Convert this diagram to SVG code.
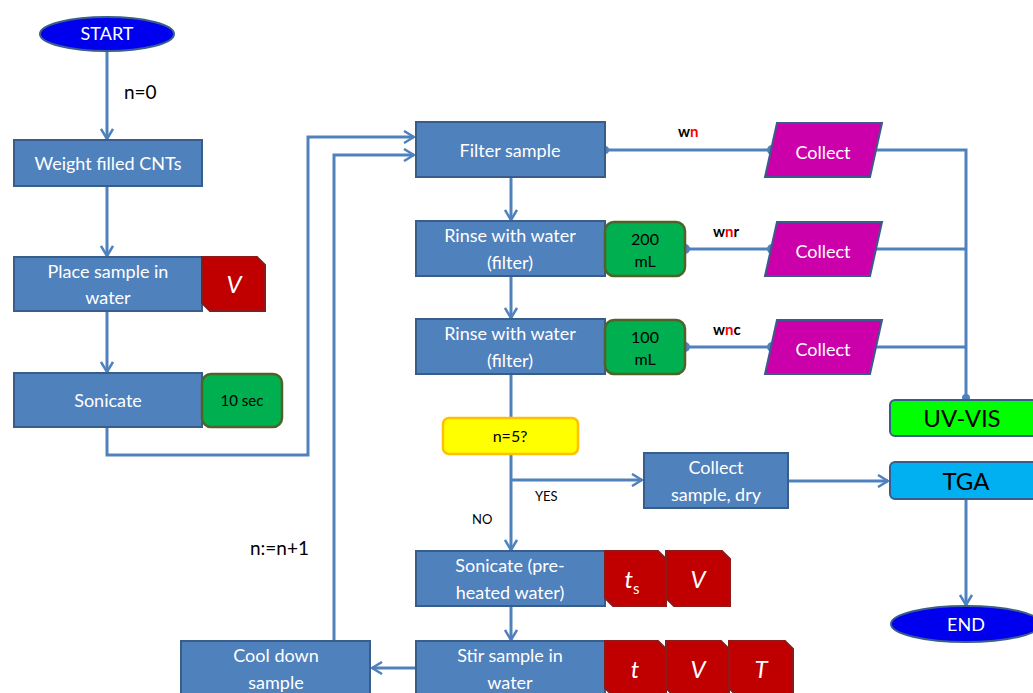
<svg xmlns="http://www.w3.org/2000/svg" width="1033" height="693" viewBox="0 0 1033 693">
<style>
.box{fill:#4f81bd;stroke:#385d8a;stroke-width:2}
.bt{font-family:Lato,"Open Sans",sans-serif;font-size:18px;fill:#fff;text-anchor:middle}
.tag{fill:#c00000;stroke:#8b1a1a;stroke-width:2}
.tt{font-family:Lato,"Open Sans",sans-serif;font-size:24px;fill:#fff;text-anchor:middle;font-style:italic}
.grn{fill:#00b050;stroke:#4f6228;stroke-width:2.5}
.gt{font-family:Lato,"Open Sans",sans-serif;font-size:16px;fill:#000;text-anchor:middle}
.big{font-size:24px}
.col{fill:#cc00aa;stroke:#385d8a;stroke-width:2}
.ln{fill:none;stroke:#4f81bd;stroke-width:3}
.lab{font-family:Lato,"Open Sans",sans-serif;font-size:19px;fill:#000}
.sm{font-family:Lato,"Open Sans",sans-serif;font-size:13px;fill:#000}
.w{font-family:Lato,"Open Sans",sans-serif;font-size:15px;font-weight:bold;fill:#000}
.dot{fill:#4f81bd}
</style>
<defs>
<marker id="arr" viewBox="0 0 12 14" refX="11" refY="7" markerWidth="12" markerHeight="14" markerUnits="userSpaceOnUse" orient="auto">
<path d="M1,1 L11,7 L1,13" fill="none" stroke="#4f81bd" stroke-width="2.5"/>
</marker>
</defs>
<rect width="1033" height="693" fill="#fff"/>
<g id="connectors">
<line class="ln" x1="107" y1="51" x2="107" y2="139" marker-end="url(#arr)"/>
<line class="ln" x1="107" y1="186" x2="107" y2="256" marker-end="url(#arr)"/>
<line class="ln" x1="107" y1="311" x2="107" y2="372" marker-end="url(#arr)"/>
<polyline class="ln" points="107,427 107,455 308,455 308,137 414,137" marker-end="url(#arr)"/>
<polyline class="ln" points="334,641 334,155 414,155" marker-end="url(#arr)"/>
<line class="ln" x1="511" y1="177" x2="511" y2="220" marker-end="url(#arr)"/>
<line class="ln" x1="511" y1="276" x2="511" y2="318" marker-end="url(#arr)"/>
<line class="ln" x1="511" y1="374" x2="511" y2="418"/>
<line class="ln" x1="511" y1="454" x2="511" y2="550" marker-end="url(#arr)"/>
<line class="ln" x1="511" y1="480" x2="642" y2="480" marker-end="url(#arr)"/>
<line class="ln" x1="788" y1="481" x2="888" y2="481" marker-end="url(#arr)"/>
<line class="ln" x1="511" y1="606" x2="511" y2="640" marker-end="url(#arr)"/>
<line class="ln" x1="416" y1="668" x2="372" y2="668" marker-end="url(#arr)"/>
<line class="ln" x1="966" y1="499" x2="966" y2="605" marker-end="url(#arr)"/>
<line class="ln" x1="605" y1="150" x2="772" y2="150"/>
<line class="ln" x1="685" y1="249" x2="772" y2="249"/>
<line class="ln" x1="685" y1="347" x2="772" y2="347"/>
<polyline class="ln" points="876,150 966,150 966,399"/>
<line class="ln" x1="874" y1="249" x2="966" y2="249"/>
<line class="ln" x1="874" y1="347" x2="966" y2="347"/>
<circle class="dot" cx="605" cy="150" r="4"/>
<circle class="dot" cx="772" cy="150" r="5"/>
<circle class="dot" cx="685" cy="249" r="5"/>
<circle class="dot" cx="772" cy="249" r="5"/>
<circle class="dot" cx="685" cy="347" r="5"/>
<circle class="dot" cx="772" cy="347" r="5"/>
<circle class="dot" cx="966" cy="398" r="4"/>
</g>
<g id="labels">
<text class="lab" x="124" y="99">n=0</text>
<text class="lab" x="250" y="555">n:=n+1</text>
<text class="w" x="678" y="137">w<tspan fill="#ff0000">n</tspan></text>
<text class="w" x="713" y="237">w<tspan fill="#ff0000">n</tspan>r</text>
<text class="w" x="713" y="335">w<tspan fill="#ff0000">n</tspan>c</text>
<text class="sm" x="535" y="501">YES</text>
<text class="sm" x="472" y="524">NO</text>
</g>
<g id="start">
<ellipse cx="107" cy="34" rx="67" ry="17" fill="#0000ee" stroke="#3a5f8a" stroke-width="2"/>
<text class="bt" x="107" y="40">START</text>
</g>
<g id="weight">
<rect class="box" x="14" y="140" width="188" height="46"/>
<text class="bt" x="108" y="170">Weight filled CNTs</text>
</g>
<g id="place">
<rect class="box" x="14" y="257" width="188" height="54"/>
<text class="bt" x="108" y="278">Place sample in</text>
<text class="bt" x="108" y="304">water</text>
<path class="tag" d="M202,257 H257 L265,265 V311 H210 L202,303 Z"/>
<text class="tt" x="234" y="293">V</text>
</g>
<g id="sonicate">
<rect class="box" x="14" y="373" width="188" height="54"/>
<text class="bt" x="108" y="407">Sonicate</text>
<rect class="grn" x="202" y="374" width="80" height="53" rx="9"/>
<text class="gt" x="242" y="406" style="font-size:15px">10 sec</text>
</g>
<g id="filter">
<rect class="box" x="416" y="122" width="189" height="55"/>
<text class="bt" x="510" y="157">Filter sample</text>
</g>
<g id="rinse1">
<rect class="box" x="416" y="221" width="189" height="55"/>
<text class="bt" x="510" y="242">Rinse with water</text>
<text class="bt" x="510" y="269">(filter)</text>
<rect class="grn" x="605" y="222" width="80" height="54" rx="9"/>
<text class="gt" x="645" y="245">200</text>
<text class="gt" x="645" y="267">mL</text>
</g>
<g id="rinse2">
<rect class="box" x="416" y="319" width="189" height="55"/>
<text class="bt" x="510" y="340">Rinse with water</text>
<text class="bt" x="510" y="367">(filter)</text>
<rect class="grn" x="605" y="320" width="80" height="54" rx="9"/>
<text class="gt" x="645" y="343">100</text>
<text class="gt" x="645" y="365">mL</text>
</g>
<g id="collect1">
<polygon class="col" points="777,123 882,123 870,177 765,177"/>
<text class="bt" x="823" y="159">Collect</text>
</g>
<g id="collect2">
<polygon class="col" points="777,222 882,222 870,276 765,276"/>
<text class="bt" x="823" y="258">Collect</text>
</g>
<g id="collect3">
<polygon class="col" points="777,320 882,320 870,374 765,374"/>
<text class="bt" x="823" y="356">Collect</text>
</g>
<g id="uvvis">
<rect x="890" y="400" width="150" height="36" rx="5" fill="#00ff00" stroke="#385d8a" stroke-width="2"/>
<text class="gt big" x="962" y="427">UV-VIS</text>
</g>
<g id="decision">
<rect x="443" y="418" width="135" height="36" rx="6" fill="#ffff00" stroke="#ffc000" stroke-width="2.5"/>
<text class="gt" x="510" y="442">n=5?</text>
</g>
<g id="collectdry">
<rect class="box" x="644" y="453" width="144" height="55"/>
<text class="bt" x="716" y="474">Collect</text>
<text class="bt" x="716" y="501">sample, dry</text>
</g>
<g id="tga">
<rect x="890" y="462" width="150" height="37" rx="5" fill="#00b0f0" stroke="#385d8a" stroke-width="2"/>
<text class="gt big" x="966" y="490">TGA</text>
</g>
<g id="end">
<ellipse cx="966" cy="624" rx="75" ry="18" fill="#0000ee" stroke="#3a5f8a" stroke-width="2"/>
<text class="bt" x="966" y="631">END</text>
</g>
<g id="sonicate2">
<rect class="box" x="416" y="551" width="189" height="55"/>
<text class="bt" x="510" y="572">Sonicate (pre-</text>
<text class="bt" x="510" y="599">heated water)</text>
<path class="tag" d="M605,551 H658 L666,559 V606 H613 L605,598 Z"/>
<text class="tt" x="632" y="588">t<tspan style="font-size:15px;font-style:normal" dy="6">s</tspan></text>
<path class="tag" d="M666,551 H722 L730,559 V606 H674 L666,598 Z"/>
<text class="tt" x="698" y="588">V</text>
</g>
<g id="stir">
<rect class="box" x="416" y="641" width="189" height="55"/>
<text class="bt" x="510" y="662">Stir sample in</text>
<text class="bt" x="510" y="689">water</text>
<path class="tag" d="M605,641 H658 L666,649 V696 H613 L605,688 Z"/>
<text class="tt" x="635" y="678">t</text>
<path class="tag" d="M666,641 H721 L729,649 V696 H674 L666,688 Z"/>
<text class="tt" x="698" y="678">V</text>
<path class="tag" d="M729,641 H785 L793,649 V696 H737 L729,688 Z"/>
<text class="tt" x="761" y="678">T</text>
</g>
<g id="cooldown">
<rect class="box" x="181" y="641" width="189" height="55"/>
<text class="bt" x="276" y="662">Cool down</text>
<text class="bt" x="276" y="689">sample</text>
</g>
</svg>
